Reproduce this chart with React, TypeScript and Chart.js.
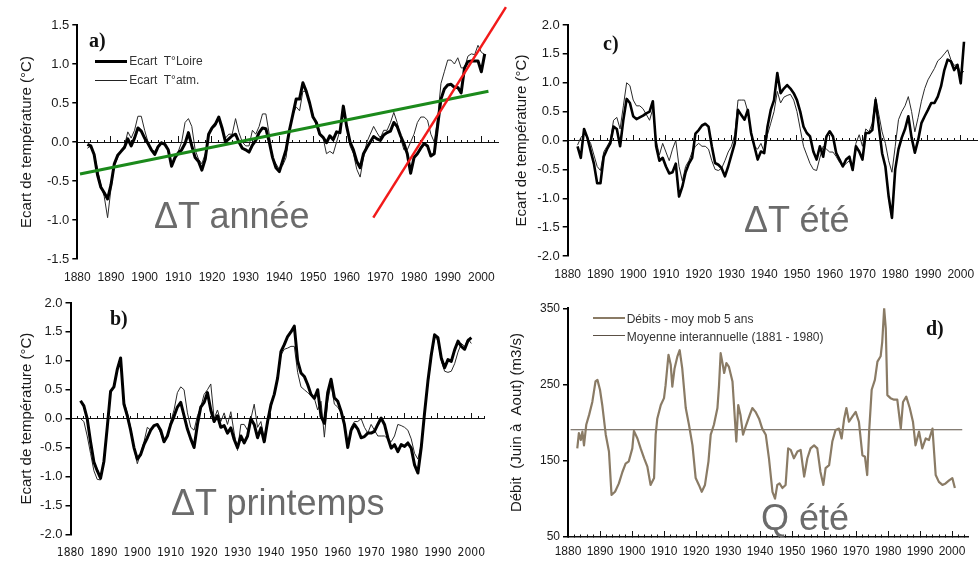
import React, { useEffect, useRef } from "react";
import { Chart, registerables } from "chart.js";

Chart.register(...registerables);

const SANS = "'Liberation Sans', Arial, Helvetica, sans-serif";
const NARROW = "'Liberation Sans Narrow', 'Arial Narrow', 'DejaVu Sans Condensed', 'Liberation Sans', sans-serif";
const SERIF = "'Liberation Serif', 'Times New Roman', serif";

function yearRange(a: number, b: number): number[] {
  const r: number[] = [];
  for (let y = a; y <= b; y++) r.push(y);
  return r;
}

// ---------- Panel a) ΔT année ----------
const YEARS_A = yearRange(1883, 2001);
const A_LOIRE = [
  -0.03, -0.05, -0.16, -0.42, -0.58, -0.65, -0.73, -0.55, -0.28, -0.17,
  -0.12, -0.07, 0.04, -0.05, 0.05, 0.18, 0.14, 0.05, -0.02, -0.1,
  -0.16, -0.06, -0.01, -0.03, -0.1, -0.31, -0.2, -0.14, -0.1, -0.02,
  0.12, -0.05, -0.2, -0.25, -0.36, -0.22, 0.1, 0.18, 0.23, 0.32,
  0.18, 0.0, 0.04, 0.08, 0.1, 0.0, -0.08, -0.1, -0.13, -0.04,
  0.02, 0.12, 0.18, 0.17, 0.0, -0.2, -0.33, -0.38, -0.24, -0.1,
  0.15, 0.35, 0.55, 0.55, 0.76, 0.65, 0.5, 0.32, 0.25, 0.1,
  0.06, -0.01, 0.08, 0.03, 0.13, 0.12, 0.46, 0.2, 0.0, -0.1,
  -0.25, -0.33, -0.15, -0.07, 0.0, 0.07, 0.04, 0.02, 0.09, 0.12,
  0.14, 0.25, 0.2, 0.08, -0.02, -0.15, -0.4, -0.2, -0.15, -0.08,
  -0.02, -0.05, -0.18, -0.15, 0.2, 0.55, 0.68, 0.73, 0.74, 0.7,
  0.7, 0.63, 0.95, 1.03, 1.04, 1.04, 1.04, 0.9, 1.13,
];
const A_ATM = [
  -0.08, -0.05, -0.15, -0.35, -0.55, -0.7, -0.97, -0.6, -0.3, -0.2,
  -0.1, -0.05, 0.13, 0.05, 0.15, 0.33, 0.33, 0.15, 0.0, -0.1,
  -0.12, -0.05, 0.0, -0.03, -0.1, -0.28, -0.2, -0.12, 0.0, 0.25,
  0.3, 0.2, -0.1, -0.22, -0.28, -0.15, 0.1, 0.18, 0.2, 0.3,
  0.15, 0.05, 0.1, 0.1, 0.3, 0.12, 0.0, -0.05, -0.05, 0.15,
  0.1, 0.2, 0.36, 0.36, 0.1, -0.2, -0.28, -0.35, -0.3, -0.2,
  0.15, 0.35, 0.45, 0.4, 0.65, 0.65, 0.5, 0.35, 0.2, 0.1,
  0.05, -0.15, -0.12, -0.15, 0.0, 0.15, 0.38, 0.2, -0.05, -0.15,
  -0.35, -0.45, -0.2, 0.0, 0.1, 0.2, 0.12, 0.05, 0.15, 0.15,
  0.25, 0.38, 0.25, 0.05, -0.1, -0.1, 0.0, 0.1, 0.25, 0.32,
  0.32, 0.28, 0.1, 0.0, 0.3, 0.75, 0.9, 1.05, 1.05, 1.0,
  1.08, 0.95, 0.95, 1.1, 1.13, 1.12, 1.24, 1.15, 1.12,
];
const TREND_GREEN_X = [1880.8, 2002.1];
const TREND_GREEN_Y = [-0.41, 0.65];
const TREND_RED_X = [1967.9, 2007.3];
const TREND_RED_Y = [-0.97, 1.73];

// ---------- Panel c) ΔT été ----------
const YEARS_C = yearRange(1883, 2001);
const C_LOIRE = [
  -0.1, -0.3, 0.2, 0.05, -0.18, -0.4, -0.74, -0.74, -0.28, -0.15,
  -0.05, 0.24, 0.2, -0.1, 0.36, 0.72, 0.65, 0.42, 0.37, 0.4,
  0.43, 0.47, 0.5, 0.68, -0.1, -0.35, -0.3, -0.45, -0.57, -0.55,
  -0.4, -0.97, -0.8, -0.55, -0.4, -0.3, 0.12, 0.18, 0.26, 0.29,
  0.24, -0.1, -0.39, -0.42, -0.48, -0.62, -0.45, -0.25, -0.05, 0.53,
  0.44, 0.36, 0.53, 0.13, -0.1, -0.33, -0.19, -0.22, 0.24, 0.53,
  0.7, 1.17, 0.82, 0.9, 0.96, 0.9, 0.82, 0.7, 0.5, 0.24,
  0.13, 0.07, -0.19, -0.33, -0.1, -0.28, 0.07, 0.16, 0.07, -0.22,
  -0.33, -0.45, -0.33, -0.28, -0.51, -0.1, -0.19, -0.33, 0.13, 0.13,
  0.18, 0.7, 0.24, -0.22, -0.45, -0.97, -1.34, -0.5, -0.15, 0.05,
  0.2, 0.42, 0.05, -0.21, 0.01, 0.3, 0.42, 0.53, 0.65, 0.65,
  0.76, 0.94, 1.22, 1.4, 1.37, 1.22, 1.31, 0.99, 1.71,
];
const C_ATM = [
  -0.08, 0.05, 0.12, 0.05, -0.05, -0.25, -0.45, -0.52, -0.2, -0.1,
  0.0, 0.35, 0.4, 0.2, 0.6, 1.0, 0.95, 0.7, 0.6, 0.6,
  0.55, 0.45, 0.35, 0.55, 0.0, -0.25, -0.05, -0.2, -0.35, -0.15,
  0.0, -0.45, -0.7, -0.45, -0.35, -0.2, -0.1, -0.05, -0.1, -0.1,
  -0.15, -0.35, -0.5, -0.52, -0.48, -0.35, -0.2, -0.1, 0.1, 0.7,
  0.7, 0.7, 0.5, 0.1, -0.1, -0.15, -0.05, -0.2, 0.1, 0.3,
  0.5, 0.85, 0.65, 0.75, 0.78, 0.8, 0.7, 0.5, 0.2, -0.1,
  -0.25, -0.4, -0.5, -0.52, -0.3, -0.1, -0.15, -0.2, -0.2, -0.28,
  -0.38, -0.45, -0.4, -0.35, -0.5, -0.05, 0.1, -0.1, 0.2, 0.15,
  0.3, 0.75, 0.45, 0.15, -0.05, -0.35, -0.55, -0.1, 0.36, 0.5,
  0.6, 0.76, 0.5, 0.15, 0.4, 0.68, 0.9, 1.05, 1.15, 1.25,
  1.38, 1.43, 1.5, 1.57, 1.4, 1.3, 1.32, 1.15, 1.2,
];

// ---------- Panel b) ΔT printemps ----------
const YEARS_B = yearRange(1883, 2000);
const B_LOIRE = [
  0.31, 0.22, 0.0, -0.4, -0.75, -0.9, -1.03, -0.74, -0.15, 0.47,
  0.55, 0.85, 1.05, 0.25, 0.05, -0.2, -0.5, -0.7, -0.62, -0.45,
  -0.33, -0.2, -0.12, -0.1, -0.2, -0.4, -0.3, -0.1, 0.04, 0.2,
  0.28, 0.05, -0.18, -0.35, -0.5, -0.1, 0.2, 0.28, 0.45, 0.15,
  -0.05, 0.05, -0.15, -0.12, -0.25, -0.16, -0.36, -0.5, -0.3, -0.42,
  -0.3, 0.0, -0.1, -0.33, -0.16, -0.4, -0.05, 0.24, 0.42, 0.7,
  1.16, 1.28, 1.42, 1.5, 1.6, 1.0, 0.79, 0.73, 0.59, 0.42,
  0.35, 0.5, 0.04, -0.08, 0.45, 0.68, 0.36, 0.3, 0.13, -0.1,
  -0.5, -0.2, -0.1, -0.18, -0.33, -0.31, -0.25, -0.25, -0.22, -0.1,
  0.01, -0.1, -0.33, -0.51, -0.45, -0.57, -0.45, -0.48, -0.42, -0.51,
  -0.8, -0.94, -0.5, 0.1, 0.65, 1.1, 1.45, 1.4, 1.05, 0.88,
  1.02, 0.99, 1.19, 1.34, 1.25, 1.2, 1.35, 1.4,
];
const B_ATM = [
  0.0, -0.05, -0.3, -0.6, -0.9, -1.05, -1.06, -0.7, -0.1, 0.45,
  0.55, 0.85, 1.0, 0.3, 0.1, -0.15, -0.5, -0.78, -0.6, -0.4,
  -0.15, -0.2, -0.12, -0.12, -0.25, -0.42, -0.3, -0.05, 0.15, 0.45,
  0.55, 0.5, 0.1, -0.15, -0.2, 0.05, 0.2, 0.42, 0.5, 0.6,
  0.0, 0.15, -0.05, 0.1, -0.1, 0.12, -0.25, -0.55, -0.1, -0.1,
  -0.2, 0.0, 0.25, -0.15, -0.05, -0.35, -0.1, 0.2, 0.42, 0.7,
  1.1, 1.2, 1.22, 1.25, 1.25, 0.8, 0.55, 0.5, 0.45, 0.4,
  0.35, 0.15, 0.3, -0.32, 0.3, 0.6, 0.25, 0.2, 0.1, -0.1,
  -0.45, -0.15, -0.05, -0.05, 0.0, -0.15, -0.25, -0.1, -0.2, -0.3,
  -0.3, -0.3, -0.35, -0.4, -0.3, -0.1, -0.12, -0.15, -0.2, -0.35,
  -0.6, -0.7, -0.45, 0.1, 0.6, 1.05, 1.42, 1.35, 1.0, 0.82,
  0.8, 0.82, 0.95, 1.15, 1.3, 1.25, 1.38, 1.3,
];

// ---------- Panel d) Q été ----------
const D_YEARS = [
  1882.9, 1883.4, 1884.0, 1884.5, 1885.0, 1885.7, 1886.6, 1887.6, 1888.6, 1889.2,
  1890.0, 1890.7, 1891.8, 1892.8, 1893.6, 1894.7, 1895.9, 1897.0, 1898.0, 1899.0,
  1900.1, 1900.6, 1901.7, 1902.7, 1903.8, 1904.8, 1905.8, 1906.9, 1907.4, 1907.9,
  1909.0, 1910.0, 1910.5, 1911.4, 1912.1, 1912.6, 1913.3, 1914.2, 1914.9, 1915.7,
  1916.8, 1917.8, 1918.9, 1919.9, 1920.9, 1921.8, 1922.8, 1923.9, 1924.6, 1925.6,
  1926.7, 1927.2, 1927.7, 1928.2, 1928.8, 1929.5, 1930.3, 1931.4, 1932.2, 1932.6,
  1933.2, 1933.9, 1934.7, 1935.7, 1936.8, 1937.6, 1938.6, 1939.7, 1940.7, 1941.8,
  1942.8, 1943.9, 1944.7, 1945.4, 1946.1, 1947.0, 1948.0, 1948.8, 1949.6, 1950.6,
  1951.7, 1952.7, 1953.8, 1954.8, 1955.8, 1956.9, 1957.9, 1958.9, 1959.8, 1960.5,
  1961.6, 1962.6, 1963.6, 1964.7, 1965.5, 1966.3, 1967.0, 1967.8, 1968.9, 1969.9,
  1970.9, 1972.0, 1972.8, 1973.5, 1974.1, 1974.9, 1975.9, 1976.7, 1977.7, 1978.2,
  1978.8, 1979.3, 1979.8, 1980.8, 1981.9, 1982.9, 1984.0, 1984.7, 1985.7, 1986.8,
  1987.8, 1988.6, 1989.7, 1990.7, 1991.8, 1992.8, 1993.9, 1994.9, 1995.9, 1997.0,
  1998.0, 1999.1, 2000.1, 2000.9,
];
const D_FLOW = [
  166, 186, 177, 188, 170, 197, 210, 227, 254, 256,
  243, 223, 184, 162, 105, 109, 120, 135, 146, 149,
  166, 189, 179, 166, 153, 142, 118, 127, 184, 205,
  223, 232, 249, 289, 276, 247, 271, 287, 295, 271,
  219, 197, 170, 127, 118, 109, 118, 149, 184, 197,
  219, 249, 291, 280, 265, 278, 273, 254, 201, 175,
  223, 210, 184, 197, 210, 219, 214, 205, 192, 184,
  153, 109, 100, 118, 120, 114, 118, 166, 164, 153,
  162, 164, 129, 153, 166, 170, 166, 135, 118, 140,
  144, 175, 190, 192, 179, 205, 219, 201, 208, 214,
  201, 157, 155, 131, 188, 243, 256, 280, 287, 306,
  350, 324, 236, 232, 230, 230, 192, 227, 234, 219,
  201, 170, 188, 166, 179, 177, 192, 131, 122, 118,
  120, 124, 127, 114,
];
const D_MEAN_X = [1880.8, 2003.2];
const D_MEAN_Y = [190.5, 190.5];

const X_TICK_LABELS = [1880, 1890, 1900, 1910, 1920, 1930, 1940, 1950, 1960, 1970, 1980, 1990, 2000];

function series(xs: number[], ys: number[], color: string, width: number, extra: any = {}) {
  return {
    data: xs.map((x, i) => ({ x, y: ys[i] })),
    borderColor: color,
    backgroundColor: color,
    borderWidth: width,
    pointRadius: 0,
    fill: false,
    tension: 0,
    borderJoinStyle: "round",
    ...extra,
  };
}

type PanelCfg = {
  left: number; top: number; width: number; height: number;
  padL: number; padT: number; padR: number;
  yAxisW: number; xAxisH: number; xLabelPad: number; xLabelFamily: string;
  xMin: number; xMax: number; yMin: number; yMax: number; yStep: number; yDecimals: number;
  yTickSize: number;
  axisAt: number; axisWidth: number; yTitle: string; datasets: any[];
};

function makeConfig(p: PanelCfg): any {
  const xLinear = { type: "linear", min: p.xMin, max: p.xMax };
  return {
    type: "line",
    data: { datasets: p.datasets },
    options: {
      responsive: false,
      maintainAspectRatio: false,
      animation: false,
      events: [],
      layout: { padding: { left: p.padL, top: p.padT, right: p.padR, bottom: 0 } },
      plugins: { legend: { display: false }, tooltip: { enabled: false } },
      elements: { point: { radius: 0 }, line: { tension: 0 } },
      scales: {
        x: {
          ...xLinear,
          position: "bottom",
          grid: { display: false, drawTicks: false },
          border: { display: false },
          afterBuildTicks: (s: any) => { s.ticks = X_TICK_LABELS.map((v) => ({ value: v })); },
          ticks: {
            autoSkip: false, maxRotation: 0, padding: p.xLabelPad, color: "#1a1a1a",
            font: { family: p.xLabelFamily, size: 12 },
            callback: (v: any) => String(v),
          },
          afterFit: (s: any) => { s.height = p.xAxisH; s.paddingLeft = 0; s.paddingRight = 0; },
        },
        xMinor: {
          ...xLinear,
          axis: "x",
          position: { y: p.axisAt },
          grid: { drawOnChartArea: false, drawTicks: true, tickLength: -3, color: "#111", lineWidth: 1 },
          border: { display: true, color: "#111", width: p.axisWidth },
          ticks: { display: false, stepSize: 2, includeBounds: false },
        },
        xMajor: {
          ...xLinear,
          axis: "x",
          position: { y: p.axisAt },
          grid: { drawOnChartArea: false, drawTicks: true, tickLength: -6, color: "#111", lineWidth: 1 },
          border: { display: false },
          ticks: { display: false, stepSize: 10, includeBounds: false },
        },
        y: {
          type: "linear",
          min: p.yMin, max: p.yMax,
          position: "left",
          grid: { drawOnChartArea: false, drawTicks: true, tickLength: 5, color: "#000", lineWidth: 1.5 },
          border: { display: true, color: "#000", width: 2 },
          ticks: {
            stepSize: p.yStep, padding: 3, color: "#1a1a1a",
            font: { family: SANS, size: p.yTickSize },
            callback: (v: any) => (Math.abs(v) < 1e-9 ? 0 : Number(v)).toFixed(p.yDecimals),
          },
          title: {
            display: true, text: p.yTitle, color: "#1a1a1a", padding: 0,
            font: { family: SANS, size: 15, lineHeight: 1.2 },
          },
          afterFit: (s: any) => { s.width = p.yAxisW; },
        },
      },
    },
  };
}

function ChartPanel({ cfg, z }: { cfg: PanelCfg; z: number }) {
  const ref = useRef<HTMLCanvasElement>(null);
  useEffect(() => {
    const chart = new Chart(ref.current as HTMLCanvasElement, makeConfig(cfg));
    return () => chart.destroy();
  }, []);
  return (
    <canvas
      ref={ref}
      width={cfg.width}
      height={cfg.height}
      style={{ position: "absolute", left: cfg.left, top: cfg.top, width: cfg.width, height: cfg.height, zIndex: z }}
    />
  );
}

const PANEL_A: PanelCfg = {
  left: 0, top: 0, width: 512, height: 290,
  padL: 18, padT: 25, padR: 13.8, yAxisW: 59.3, xAxisH: 31, xLabelPad: 11, xLabelFamily: SANS,
  xMin: 1880, xMax: 2005, yMin: -1.5, yMax: 1.5, yStep: 0.5, yDecimals: 1, yTickSize: 13,
  axisAt: 0, axisWidth: 1, yTitle: "Ecart de température (°C)",
  datasets: [
    series(TREND_RED_X, TREND_RED_Y, "#f21a1a", 2.5, { clip: false }),
    series(TREND_GREEN_X, TREND_GREEN_Y, "#1b8a1b", 3),
    series(YEARS_A, A_LOIRE, "#000000", 3),
    series(YEARS_A, A_ATM, "#2a2a2a", 1),
  ],
};

const PANEL_C: PanelCfg = {
  left: 490, top: 0, width: 488, height: 290,
  padL: 22.7, padT: 25, padR: 0.9, yAxisW: 55, xAxisH: 34, xLabelPad: 11.5, xLabelFamily: SANS,
  xMin: 1880, xMax: 2005, yMin: -2, yMax: 2, yStep: 0.5, yDecimals: 1, yTickSize: 13,
  axisAt: 0, axisWidth: 1, yTitle: "Ecart de température (°C)",
  datasets: [
    series(YEARS_C, C_LOIRE, "#000000", 2.6),
    series(YEARS_C, C_ATM, "#2a2a2a", 1),
  ],
};

const PANEL_B: PanelCfg = {
  left: 0, top: 290, width: 490, height: 271,
  padL: 18, padT: 13, padR: 5.3, yAxisW: 52.5, xAxisH: 26.7, xLabelPad: 11.5, xLabelFamily: NARROW,
  xMin: 1880, xMax: 2004, yMin: -2, yMax: 2, yStep: 0.5, yDecimals: 1, yTickSize: 13,
  axisAt: 0, axisWidth: 1, yTitle: "Ecart de température (°C)",
  datasets: [
    series(YEARS_B, B_LOIRE, "#000000", 3),
    series(YEARS_B, B_ATM, "#2a2a2a", 1),
  ],
};

const PANEL_D: PanelCfg = {
  left: 490, top: 290, width: 488, height: 271,
  padL: 17.7, padT: 18.3, padR: 10, yAxisW: 60.3, xAxisH: 24.3, xLabelPad: 8, xLabelFamily: SANS,
  xMin: 1880, xMax: 2005, yMin: 50, yMax: 350, yStep: 100, yDecimals: 0, yTickSize: 12,
  axisAt: 50, axisWidth: 1.5, yTitle: "Débit  (Juin à  Aout) (m3/s)",
  datasets: [
    series(D_YEARS, D_FLOW, "#8a7b65", 2.2),
    series(D_MEAN_X, D_MEAN_Y, "#5b5045", 1.2),
  ],
};

const abs = (left: number, top: number, extra: any = {}): any => ({
  position: "absolute", left, top, margin: 0, lineHeight: 1, whiteSpace: "pre", zIndex: 5, ...extra,
});

const bigText = { fontFamily: SANS, fontSize: 36, color: "#6b6b6b" };
const letterText = { fontFamily: SERIF, fontSize: 20, fontWeight: 700, color: "#111" };
const legendText = { fontFamily: SANS, fontSize: 12, color: "#333" };

export default function App() {
  return (
    <div style={{ position: "fixed", left: 0, top: 0, width: 978, height: 561, background: "#fff", overflow: "hidden" }}>
      <ChartPanel cfg={PANEL_C} z={1} />
      <ChartPanel cfg={PANEL_D} z={1} />
      <ChartPanel cfg={PANEL_B} z={1} />
      <ChartPanel cfg={PANEL_A} z={2} />

      <div style={abs(89, 30, letterText)}>a)</div>
      <div style={abs(603, 32.6, letterText)}>c)</div>
      <div style={abs(110, 307.5, letterText)}>b)</div>
      <div style={abs(926, 318.3, letterText)}>d)</div>

      <div style={abs(154, 197.5, bigText)}>ΔT année</div>
      <div style={abs(744, 201.5, bigText)}>ΔT été</div>
      <div style={abs(171, 484.5, bigText)}>ΔT printemps</div>
      <div style={abs(761, 499.5, bigText)}>Q été</div>

      <div style={abs(95, 60.2, { width: 32, height: 3, background: "#000" })} />
      <div style={abs(129.3, 54.8, legendText)}>Ecart  T°Loire</div>
      <div style={abs(95, 80.2, { width: 32, height: 1, background: "#222" })} />
      <div style={abs(129.3, 74, legendText)}>Ecart  T°atm.</div>

      <div style={abs(593, 317.3, { width: 32, height: 2, background: "#8a7b65" })} />
      <div style={abs(626.7, 313, legendText)}>Débits - moy mob 5 ans</div>
      <div style={abs(593, 335.2, { width: 32, height: 1, background: "#5b5045" })} />
      <div style={abs(626.7, 330.8, legendText)}>Moyenne interannuelle (1881 - 1980)</div>
    </div>
  );
}
